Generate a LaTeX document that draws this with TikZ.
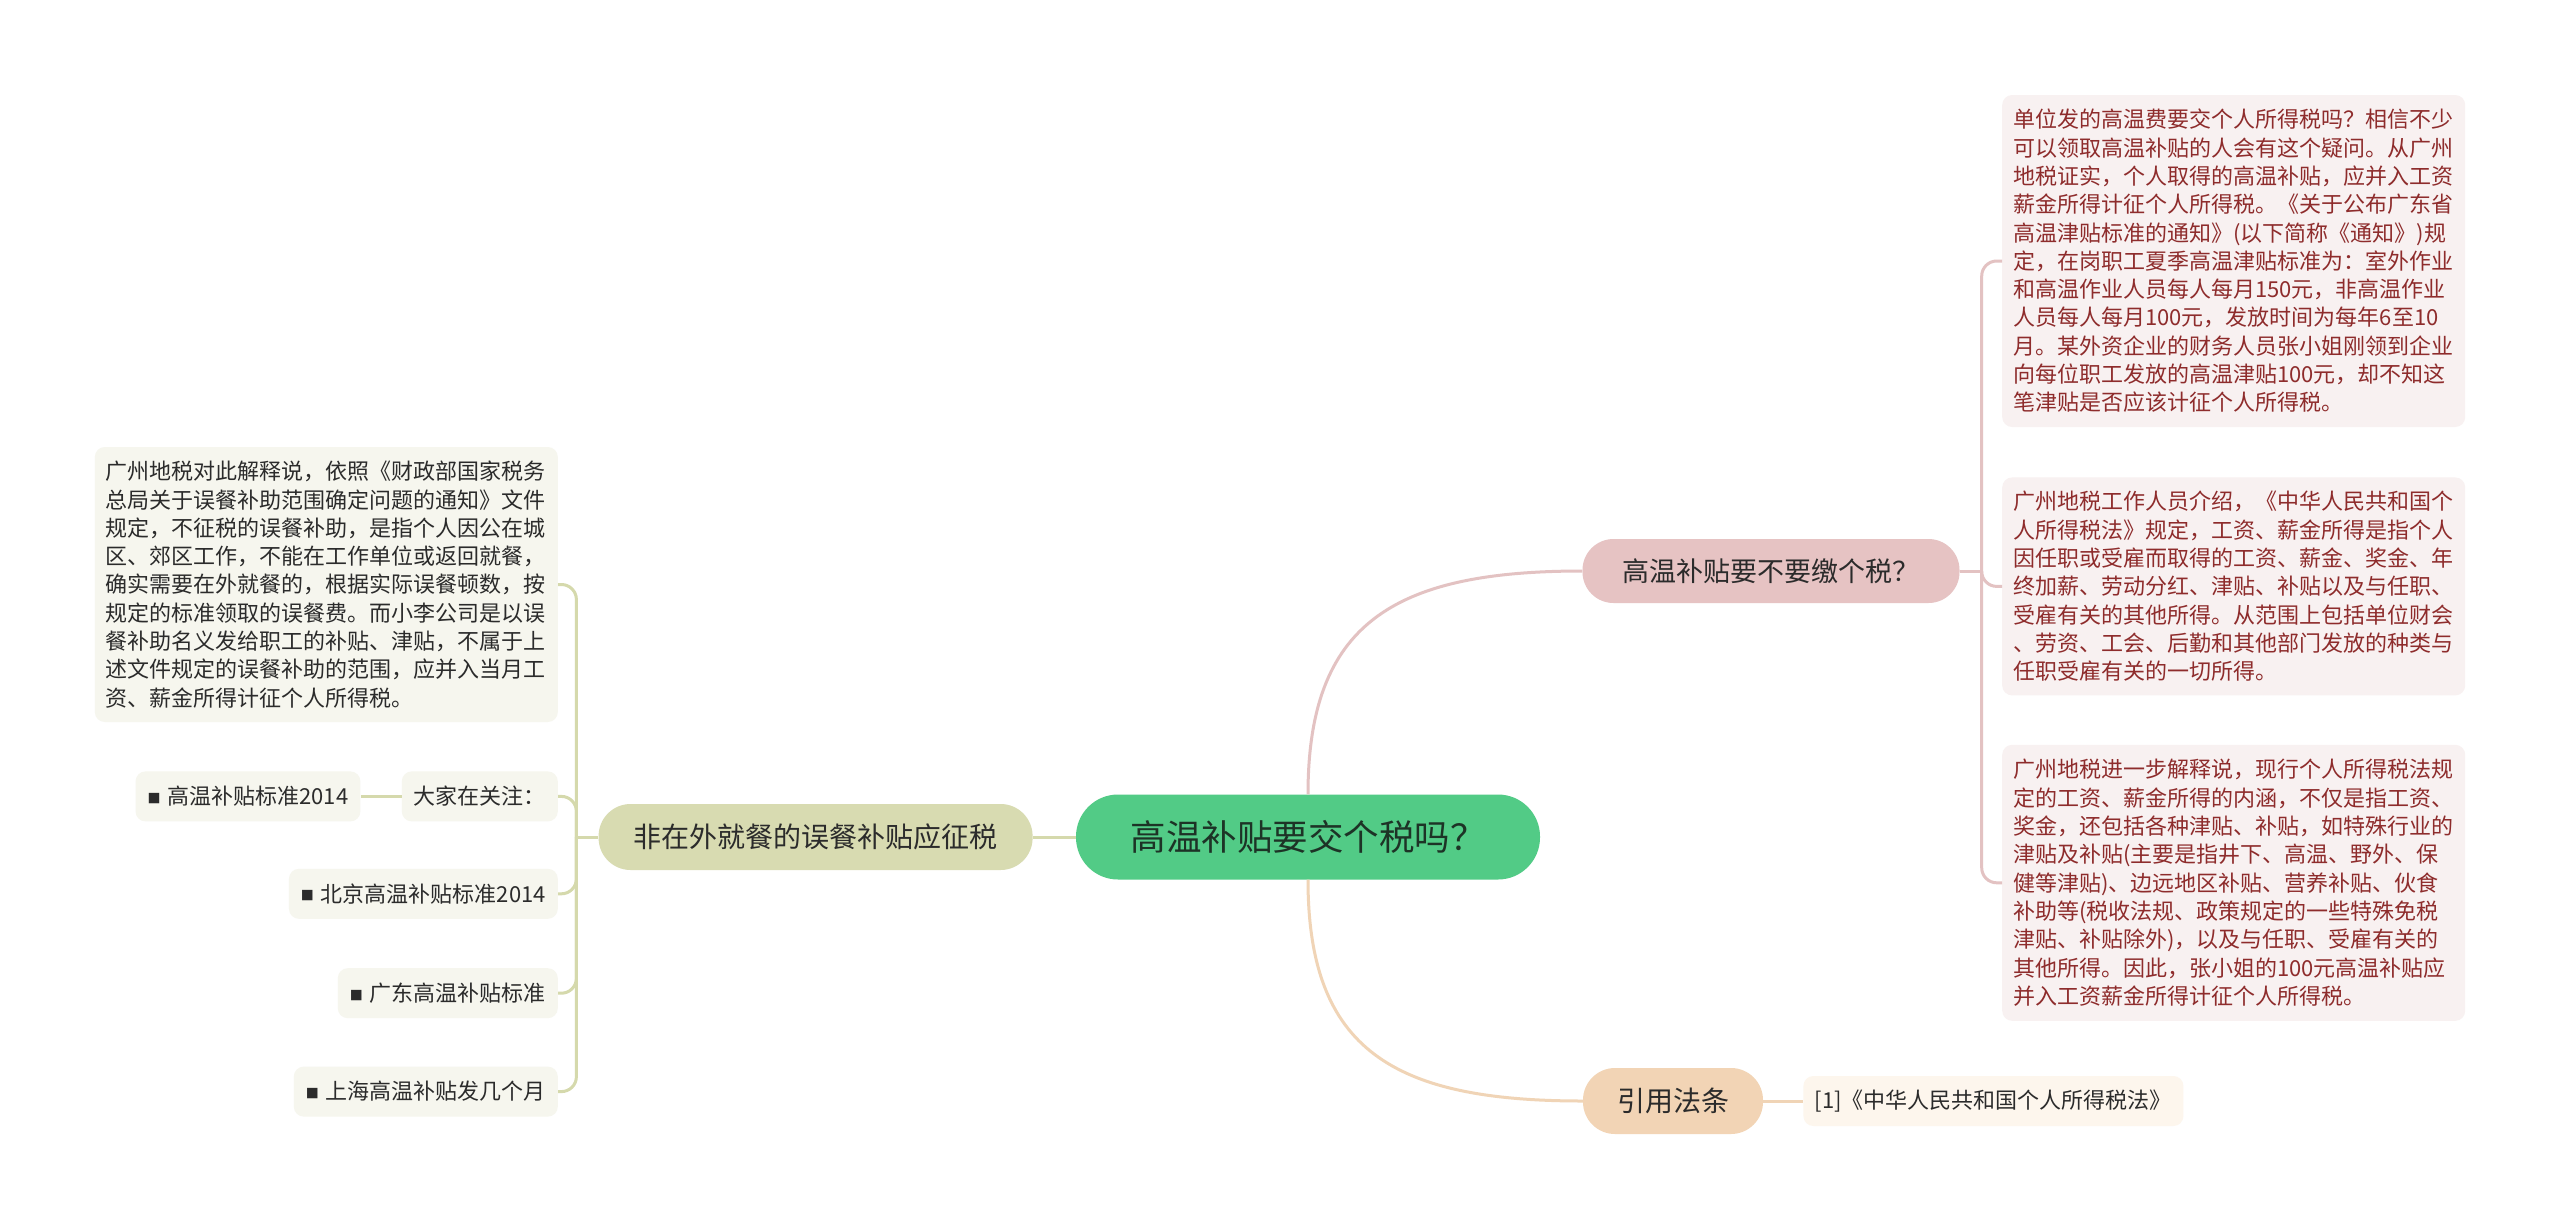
\documentclass[tikz,border=0pt]{standalone}
\usepackage{fontspec}
\setmainfont{Noto Sans CJK SC}
\usepackage{xcolor}
\definecolor{mmGreen}{HTML}{52CB86}
\definecolor{mmDark}{HTML}{1D3326}
\definecolor{mmOlive}{HTML}{D8DBB1}
\definecolor{mmOliveLine}{HTML}{D5D9AC}
\definecolor{mmOliveBg}{HTML}{F6F6EE}
\definecolor{mmRose}{HTML}{E6C3C3}
\definecolor{mmRoseLine}{HTML}{E3C2C2}
\definecolor{mmRoseBg}{HTML}{F8F1F1}
\definecolor{mmPeach}{HTML}{F2D4B5}
\definecolor{mmPeachLine}{HTML}{F0D4B6}
\definecolor{mmPeachBg}{HTML}{FDF6ED}
\definecolor{mmInk}{HTML}{2B2B2B}
\definecolor{mmRed}{HTML}{8E2C2C}
\usepackage{tikz}
\usetikzlibrary{positioning}

\newcommand{\sq}{\raisebox{1.5pt}{\fontsize{13}{13}\selectfont ■}\hspace{7pt}}

\begin{document}
\begin{tikzpicture}[x=1pt,y=-1pt,
      every node/.style={inner sep=0pt,text=mmInk},
      topicbox/.style={rectangle,rounded corners=42pt,fill=mmGreen,text=mmDark,
                    minimum width=464pt,minimum height=85pt,
                    font=\fontsize{35.5}{40}\selectfont},
      mealbox/.style={rectangle,rounded corners=32pt,fill=mmOlive,
                    minimum width=434pt,minimum height=66pt,
                    font=\fontsize{28}{32}\selectfont},
      taxbox/.style={rectangle,rounded corners=31pt,fill=mmRose,
                    minimum width=377pt,minimum height=64pt,
                    font=\fontsize{27}{32}\selectfont},
      lawbox/.style={rectangle,rounded corners=32pt,fill=mmPeach,
                    minimum width=180pt,minimum height=66pt,
                    font=\fontsize{28}{32}\selectfont},
      refbox/.style={rectangle,rounded corners=10pt,fill=mmPeachBg,
                    minimum width=380pt,minimum height=50pt,
                    font=\fontsize{22}{26}\selectfont},
      notebox/.style={rectangle,rounded corners=10pt,fill=mmRoseBg,text=mmRed,
                    text width=441pt,inner xsep=11pt,align=left,
                    font=\fontsize{22}{28.3}\selectfont},
      mealnote/.style={rectangle,rounded corners=10pt,fill=mmOliveBg,
                    text width=441pt,inner xsep=11pt,align=left,
                    font=\fontsize{22}{28.3}\selectfont},
      tagbox/.style={rectangle,rounded corners=10pt,fill=mmOliveBg,
                    minimum height=50pt,inner xsep=12pt,
                    font=\fontsize{22}{26}\selectfont},
      meallink/.style={line width=3pt,mmOliveLine},
      taxlink/.style={line width=3pt,mmRoseLine},
      lawlink/.style={line width=3pt,mmPeachLine},
    ]

    \path[use as bounding box,fill=white] (0,0) rectangle (2560,1229);

    % --- Centre topic ---
    \node[topicbox] (topic) at (1308,837) {高温补贴要交个税吗？};

    % --- Left branch ---
    \node[mealbox,left=43pt of topic] (meal) {非在外就餐的误餐补贴应征税};
    \node[mealnote,anchor=east,minimum height=275pt] (mealnote) at (558,584.5) {%
      广州地税对此解释说，依照《财政部国家税务\\
      总局关于误餐补助范围确定问题的通知》文件\\
      规定，不征税的误餐补助，是指个人因公在城\\
      区、郊区工作，不能在工作单位或返回就餐，\\
      确实需要在外就餐的，根据实际误餐顿数，按\\
      规定的标准领取的误餐费。而小李公司是以误\\
      餐补助名义发给职工的补贴、津贴，不属于上\\
      述文件规定的误餐补助的范围，应并入当月工\\
      资、薪金所得计征个人所得税。%
    };
    \node[tagbox,below left=49pt and 0pt of mealnote.south east] (attn) {大家在关注：};
    \node[tagbox,left=41pt of attn] (hot2014) {\sq 高温补贴标准2014};
    \node[tagbox,below left=47pt and 0pt of attn.south east] (bj2014) {\sq 北京高温补贴标准2014};
    \node[tagbox,below left=49pt and 0pt of bj2014.south east] (gdstd) {\sq 广东高温补贴标准};
    \node[tagbox,below left=48pt and 0pt of gdstd.south east] (shmonth) {\sq 上海高温补贴发几个月};

    % --- Right branch: tax question ---
    \node[taxbox] (tax) at (1771,571) {高温补贴要不要缴个税？};
    \node[notebox,anchor=west,minimum height=332pt] (taxA) at (2002,261) {%
      单位发的高温费要交个人所得税吗？相信不少\\
      可以领取高温补贴的人会有这个疑问。从广州\\
      地税证实，个人取得的高温补贴，应并入工资\\
      薪金所得计征个人所得税。《关于公布广东省\\
      高温津贴标准的通知》(以下简称《通知》)规\\
      定，在岗职工夏季高温津贴标准为：室外作业\\
      和高温作业人员每人每月150元，非高温作业\\
      人员每人每月100元，发放时间为每年6至10\\
      月。某外资企业的财务人员张小姐刚领到企业\\
      向每位职工发放的高温津贴100元，却不知这\\
      笔津贴是否应该计征个人所得税。%
    };
    \node[notebox,below=50pt of taxA,minimum height=218pt] (taxB) {%
      广州地税工作人员介绍，《中华人民共和国个\\
      人所得税法》规定，工资、薪金所得是指个人\\
      因任职或受雇而取得的工资、薪金、奖金、年\\
      终加薪、劳动分红、津贴、补贴以及与任职、\\
      受雇有关的其他所得。从范围上包括单位财会\\
      、劳资、工会、后勤和其他部门发放的种类与\\
      任职受雇有关的一切所得。%
    };
    \node[notebox,below=49pt of taxB,minimum height=276pt] (taxC) {%
      广州地税进一步解释说，现行个人所得税法规\\
      定的工资、薪金所得的内涵，不仅是指工资、\\
      奖金，还包括各种津贴、补贴，如特殊行业的\\
      津贴及补贴(主要是指井下、高温、野外、保\\
      健等津贴)、边远地区补贴、营养补贴、伙食\\
      补助等(税收法规、政策规定的一些特殊免税\\
      津贴、补贴除外)，以及与任职、受雇有关的\\
      其他所得。因此，张小姐的100元高温补贴应\\
      并入工资薪金所得计征个人所得税。%
    };

    % --- Right branch: law reference ---
    \node[lawbox] (law) at (1673,1101) {引用法条};
    \node[refbox,right=40pt of law] (lawref) {[1]《中华人民共和国个人所得税法》};

    % --- Connectors ---
    \draw[meallink] (topic) -- (meal);
    \draw[meallink] (meal.west) -- ++(-22,0) coordinate (mealjoin);
    \foreach \n in {mealnote,attn,bj2014,gdstd,shmonth}
      \draw[meallink,rounded corners=15pt] (mealjoin) |- (\n.east);
    \draw[meallink] (attn) -- (hot2014);

    \draw[taxlink] (topic.north) .. controls +(0,-170) and +(-190,0) .. (tax.west);
    \draw[taxlink] (tax.east) -- ++(22,0) coordinate (taxjoin);
    \foreach \n in {taxA,taxB,taxC}
      \draw[taxlink,rounded corners=15pt] (taxjoin) |- (\n.west);

    \draw[lawlink] (topic.south) .. controls +(0,170) and +(-190,0) .. (law.west);
    \draw[lawlink] (law) -- (lawref);

  \end{tikzpicture}
\end{document}
